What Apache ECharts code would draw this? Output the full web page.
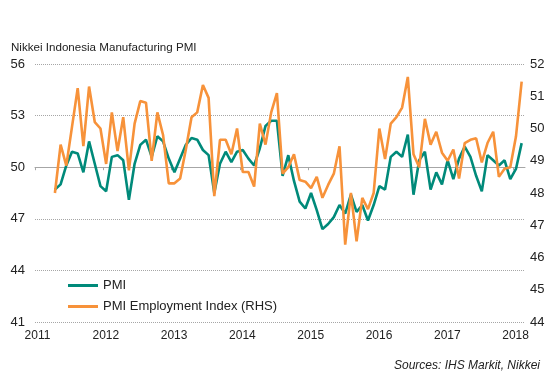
<!DOCTYPE html>
<html>
<head>
<meta charset="utf-8">
<script src="https://cdn.jsdelivr.net/npm/echarts@6/dist/echarts.min.js"></script>
<style>
  html, body { margin: 0; padding: 0; background: #fff; }
  #chart { width: 550px; height: 376px; }
</style>
</head>
<body>
<div id="chart"></div>
<script>
  // monthly readings, Apr 2011 .. Feb 2018
  const startYear = 2011;
  const startMonth = 4;
  const pmi = [
    48.7, 49.0, 50.1, 50.9, 50.8, 49.7, 51.5, 50.2, 48.9,
    48.6, 50.6, 50.7, 50.4, 48.1, 50.2, 51.3, 51.6, 50.6, 51.8, 51.5, 50.5,
    49.7, 50.5, 51.3, 51.7, 51.6, 51.0, 50.7, 48.5, 50.2, 50.9, 50.3, 50.9,
    51.0, 50.5, 50.1, 51.1, 52.4, 52.7, 52.7, 49.5, 50.7, 49.2, 48.0, 47.6,
    48.5, 47.5, 46.4, 46.7, 47.1, 47.8, 47.3, 48.4, 47.4, 47.8, 46.9, 47.8,
    48.9, 48.7, 50.6, 50.9, 50.6, 51.9, 48.4, 50.4, 50.9, 48.7, 49.7, 49.0,
    50.4, 49.3, 50.5, 51.2, 50.6, 49.5, 48.6, 50.7, 50.4, 50.1, 50.4, 49.3,
    49.9, 51.4
  ];
  const employment = [
    48.0, 49.5, 48.85, 50.05, 51.25, 49.45, 51.3, 50.2, 50.0,
    48.9, 50.5, 49.3, 50.35, 48.7, 50.15, 50.85, 50.8, 49.0, 50.5, 49.8, 48.3,
    48.3, 48.45, 49.35, 50.35, 50.5, 51.35, 50.95, 47.9, 49.65, 49.65, 49.2, 50.0,
    48.65, 48.65, 48.2, 50.15, 49.5, 50.5, 51.1, 48.6, 48.8, 49.2, 48.4, 48.35,
    48.15, 48.5, 47.85, 48.25, 48.6, 49.45, 46.4, 48.0, 46.5, 47.85, 47.5, 48.0,
    50.0, 49.05, 50.15, 50.35, 50.65, 51.6, 49.2, 48.8, 50.3, 49.5, 49.9, 49.25,
    49.0, 49.35, 48.45, 49.55, 49.65, 49.7, 48.95, 49.55, 49.9, 48.5, 48.75, 48.8,
    49.75, 51.45
  ];
  const yearTicks = [2011, 2012, 2013, 2014, 2015, 2016, 2017, 2018];
  const leftTicks = [41, 44, 47, 50, 53, 56];
  const rightTicks = [44, 45, 46, 47, 48, 49, 50, 51, 52];

  // month midpoints in decimal years
  function monthX(i) {
    return startYear + (startMonth - 1 + i + 0.5) / 12;
  }
  const pmiData = pmi.map((v, i) => [monthX(i), v]);
  const empData = employment.map((v, i) => [monthX(i), v]);

  const font = 'Arial, "Liberation Sans", sans-serif';
  const myChart = echarts.init(document.getElementById('chart'));
  const option = {
    animation: false,
    textStyle: { fontFamily: font },
    title: {
      text: 'Nikkei Indonesia Manufacturing PMI',
      left: 6, top: 37,
      textStyle: { fontSize: 11.6, fontWeight: 'normal', color: '#222', fontFamily: font }
    },
    legend: {
      orient: 'vertical',
      left: 63, top: 274,
      icon: 'rect',
      itemWidth: 30, itemHeight: 3,
      itemGap: 8,
      textStyle: { fontSize: 13, color: '#222', fontFamily: font },
      data: ['PMI', 'PMI Employment Index (RHS)']
    },
    graphic: [{
      type: 'text',
      right: 10, top: 360,
      style: {
        text: 'Sources: IHS Markit, Nikkei',
        font: 'italic 12px ' + font,
        fill: '#222'
      }
    }],
    grid: { left: 35, right: 25, top: 64, bottom: 54 },
    xAxis: [{
      type: 'value',
      min: 2011,
      max: 2018.174,
      interval: 1,
      axisLine: { show: false },
      axisTick: { show: false },
      splitLine: { show: false },
      axisLabel: {
        customValues: yearTicks,
        margin: 8,
        fontSize: 12,
        color: '#222',
        padding: [0, 0, 0, 5],
        formatter: v => String(Math.round(v))
      }
    }, {
      type: 'value',
      position: 'bottom',
      offset: -154.8,
      min: 2011,
      max: 2018.174,
      interval: 1,
      axisLine: { show: true, lineStyle: { color: '#a6a6a6', width: 1 } },
      axisTick: { show: true, customValues: yearTicks, length: 3, lineStyle: { color: '#a6a6a6' } },
      axisLabel: { show: false },
      splitLine: { show: false }
    }],
    yAxis: [{
      type: 'value',
      min: 41, max: 56, interval: 3,
      axisLine: { show: false },
      axisTick: { show: false },
      axisLabel: { margin: 10, fontSize: 13, color: '#222', customValues: leftTicks },
      splitLine: { show: true, lineStyle: { color: '#a6a6a6', type: 'dotted', width: 1 } }
    }, {
      type: 'value',
      position: 'right',
      min: 44, max: 52, interval: 1,
      axisLine: { show: false },
      axisTick: { show: false },
      axisLabel: { margin: 5, fontSize: 13, color: '#222', customValues: rightTicks },
      splitLine: { show: false }
    }],
    series: [{
      name: 'PMI',
      type: 'line',
      xAxisIndex: 0,
      yAxisIndex: 0,
      data: pmiData,
      symbol: 'none',
      lineStyle: { color: '#008a7a', width: 2.6 },
      itemStyle: { color: '#008a7a' }
    }, {
      name: 'PMI Employment Index (RHS)',
      type: 'line',
      xAxisIndex: 0,
      yAxisIndex: 1,
      data: empData,
      symbol: 'none',
      lineStyle: { color: '#f7923a', width: 2.6 },
      itemStyle: { color: '#f7923a' }
    }]
  };
  myChart.setOption(option);
</script>
</body>
</html>
